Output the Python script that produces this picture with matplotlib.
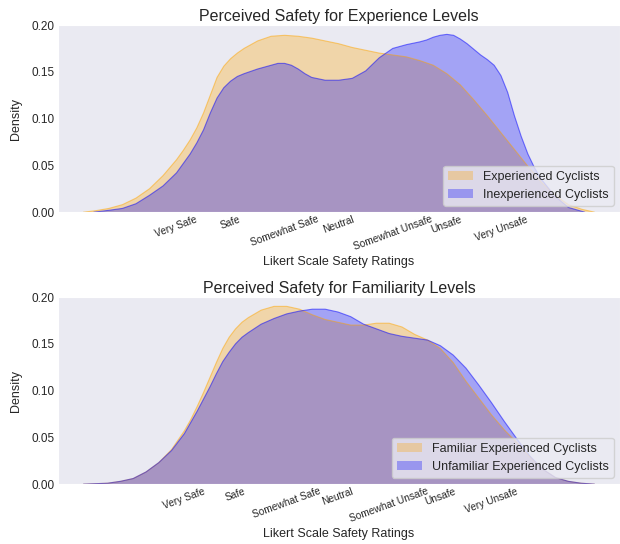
import matplotlib
matplotlib.use("Agg")
import matplotlib.pyplot as plt
import seaborn as sns

# Likert categories, placed at positions 1..7 on the x axis
likert_labels = ["Very Safe", "Safe", "Somewhat Safe", "Neutral",
                 "Somewhat Unsafe", "Unsafe", "Very Unsafe"]
likert_pos = [1, 2, 3, 4, 5, 6, 7]

# density curves (x, density) for the experience comparison
exp_x = [-0.72, -0.5, -0.25, 0.0, 0.25, 0.5, 0.75, 1.0, 1.125, 1.25, 1.375,
         1.5, 1.625, 1.75, 1.875, 2.0, 2.125, 2.25, 2.5, 2.75, 3.0, 3.25,
         3.5, 3.75, 4.0, 4.25, 4.5, 4.75, 5.0, 5.25, 5.5, 5.75, 6.0, 6.25,
         6.5, 6.75, 7.0, 7.25, 7.5, 7.75, 8.0, 8.25, 8.5, 8.73]
exp_y = [0.0, 0.0015, 0.004, 0.008, 0.015, 0.025, 0.039, 0.056, 0.066, 0.077,
         0.090, 0.106, 0.125, 0.144, 0.156, 0.164, 0.170, 0.175, 0.183, 0.188,
         0.189, 0.188, 0.186, 0.183, 0.180, 0.176, 0.173, 0.170, 0.168, 0.166,
         0.162, 0.157, 0.148, 0.136, 0.120, 0.103, 0.085, 0.067, 0.049, 0.032,
         0.018, 0.008, 0.003, 0.0]

inexp_x = [-0.53, -0.25, 0.0, 0.25, 0.5, 0.75, 1.0, 1.25, 1.375, 1.5, 1.625,
           1.75, 1.875, 2.0, 2.125, 2.25, 2.5, 2.75, 2.875, 3.0, 3.125, 3.25,
           3.375, 3.5, 3.75, 4.0, 4.25, 4.5, 4.75, 5.0, 5.25, 5.5, 5.625, 5.75,
           5.875, 6.0, 6.125, 6.25, 6.375, 6.5, 6.625, 6.75, 6.875, 7.0, 7.125,
           7.25, 7.375, 7.5, 7.625, 7.75, 8.0, 8.25, 8.55]
inexp_y = [0.0, 0.002, 0.004, 0.009, 0.018, 0.028, 0.042, 0.062, 0.074, 0.088,
           0.106, 0.122, 0.133, 0.140, 0.145, 0.148, 0.153, 0.157, 0.159, 0.159,
           0.157, 0.153, 0.148, 0.144, 0.141, 0.141, 0.143, 0.151, 0.165, 0.175,
           0.179, 0.182, 0.184, 0.187, 0.189, 0.190, 0.189, 0.185, 0.180, 0.174,
           0.168, 0.163, 0.157, 0.146, 0.128, 0.103, 0.081, 0.062, 0.047, 0.035,
           0.017, 0.005, 0.0]

# density curves for the familiarity comparison
fam_x = [-0.97, -0.5, -0.25, 0.0, 0.25, 0.5, 0.75, 1.0, 1.125, 1.25, 1.375,
         1.5, 1.625, 1.75, 1.875, 2.0, 2.125, 2.25, 2.5, 2.75, 3.0, 3.25,
         3.5, 3.75, 4.0, 4.25, 4.5, 4.75, 5.0, 5.25, 5.5, 5.75, 6.0, 6.25,
         6.5, 6.75, 7.0, 7.25, 7.5, 7.75, 8.0, 8.25, 8.5, 8.75, 9.01]
fam_y = [0.0, 0.001, 0.003, 0.006, 0.013, 0.023, 0.037, 0.057, 0.069, 0.083,
         0.098, 0.114, 0.130, 0.145, 0.157, 0.166, 0.173, 0.178, 0.186, 0.190,
         0.190, 0.187, 0.181, 0.176, 0.173, 0.170, 0.170, 0.172, 0.172, 0.168,
         0.160, 0.154, 0.145, 0.130, 0.110, 0.092, 0.074, 0.058, 0.044, 0.029,
         0.016, 0.007, 0.003, 0.001, 0.0]

unfam_x = [-0.97, -0.5, -0.25, 0.0, 0.25, 0.5, 0.75, 1.0, 1.25, 1.5, 1.625,
           1.75, 1.875, 2.0, 2.125, 2.25, 2.5, 2.75, 3.0, 3.25, 3.5, 3.75,
           4.0, 4.25, 4.5, 4.75, 5.0, 5.25, 5.5, 5.75, 6.0, 6.25, 6.5, 6.75,
           7.0, 7.25, 7.5, 7.75, 8.0, 8.25, 8.5, 8.75, 9.01]
unfam_y = [0.0, 0.001, 0.003, 0.006, 0.013, 0.023, 0.036, 0.054, 0.078, 0.104,
           0.118, 0.131, 0.141, 0.150, 0.157, 0.162, 0.171, 0.177, 0.182, 0.185,
           0.187, 0.187, 0.184, 0.179, 0.171, 0.166, 0.161, 0.158, 0.156, 0.154,
           0.148, 0.138, 0.124, 0.106, 0.087, 0.067, 0.048, 0.030, 0.016, 0.007,
           0.003, 0.001, 0.0]

panels = [
    ("Perceived Safety for Experience Levels",
     [(exp_x, exp_y, "orange", "Experienced Cyclists"),
      (inexp_x, inexp_y, "blue", "Inexperienced Cyclists")]),
    ("Perceived Safety for Familiarity Levels",
     [(fam_x, fam_y, "orange", "Familiar Experienced Cyclists"),
      (unfam_x, unfam_y, "blue", "Unfamiliar Experienced Cyclists")]),
]

sns.set_style("dark")
plt.rcParams["font.family"] = ["Liberation Sans", "DejaVu Sans"]

fig = plt.figure(figsize=(6.2, 5.44), dpi=100)
axes = [fig.add_axes([0.0935, 0.610, 0.9065, 0.344]),
        fig.add_axes([0.0935, 0.110, 0.9065, 0.344])]

for ax, (title, curves) in zip(axes, panels):
    for xs, ys, color, label in curves:
        ax.fill_between(xs, ys, 0, facecolor=color, alpha=0.3,
                        edgecolor="none", label=label)
        ax.plot(xs, ys, color=color, lw=0.8, alpha=0.5)
    ax.set_ylim(0, 0.2)
    ax.set_yticks([0.0, 0.05, 0.10, 0.15, 0.20])
    ax.set_yticklabels(["0.00", "0.05", "0.10", "0.15", "0.20"], fontsize=8.5)
    ax.set_xticks(likert_pos)
    ax.set_xticklabels(likert_labels, rotation=20, fontsize=7.3)
    ax.set_title(title, fontsize=11.5, pad=3)
    ax.set_xlabel("Likert Scale Safety Ratings", fontsize=9, labelpad=3)
    ax.set_ylabel("Density", fontsize=9, labelpad=7)
    ax.tick_params(axis="x", pad=-2)
    ax.tick_params(axis="y", pad=-1.3)
    ax.legend(loc="lower right", fontsize=9)

fig.savefig("out.png", dpi=100)
